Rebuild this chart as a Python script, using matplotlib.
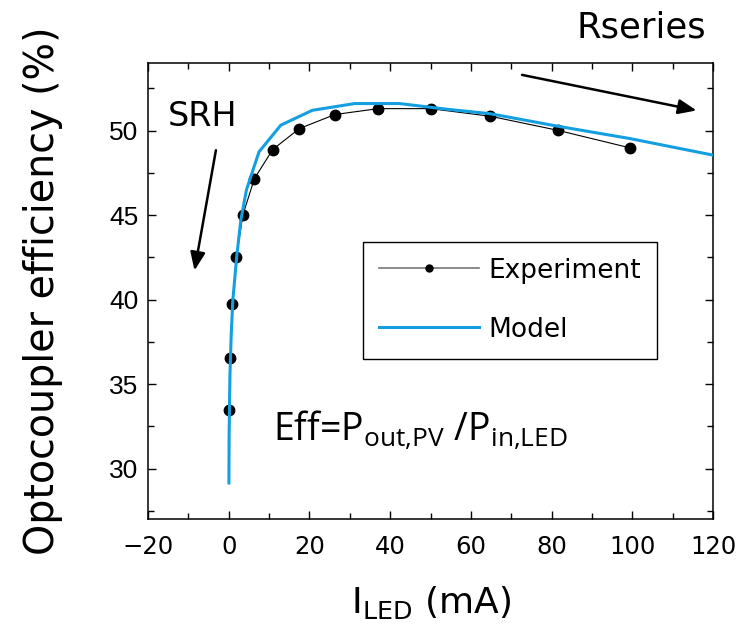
import matplotlib
matplotlib.use("Agg")
import matplotlib.pyplot as plt
from matplotlib.lines import Line2D

# experiment: LED current (mA) vs optocoupler efficiency (%)
exp_current = [0.07, 0.42, 0.91, 1.9, 3.5, 6.35, 10.9, 17.5, 26.3, 37.0, 50.0, 64.8, 81.5, 99.4]
exp_eff = [33.44, 36.54, 39.75, 42.5, 45.0, 47.15, 48.88, 50.12, 50.95, 51.3, 51.3, 50.85, 50.02, 48.98]

# model curve
model_current = [0.05, 0.1, 0.3, 0.6, 1.0, 2.0, 3.0, 4.4, 7.5, 12.9, 20.7, 31.2, 42.3, 54.6, 64.8, 81.5, 99.4, 120.0]
model_eff = [29.15, 32.0, 35.5, 37.8, 39.9, 42.6, 44.7, 46.5, 48.74, 50.32, 51.2, 51.6, 51.6, 51.25, 51.0, 50.26, 49.53, 48.55]

main_font = "DejaVu Sans"
tick_font_y = "Liberation Sans"
plt.rcParams["mathtext.fontset"] = "custom"
plt.rcParams["mathtext.rm"] = "Open Sans"
plt.rcParams["mathtext.it"] = "Open Sans:italic"

fig = plt.figure(figsize=(7.37, 6.33), dpi=100)
ax = fig.add_axes([148 / 737, 1 - 519.3 / 633, 565 / 737, 456.3 / 633])

ax.plot(exp_current, exp_eff, color="black", lw=0.8, marker="o", ms=7.5,
        mfc="black", mec="black", zorder=2)
ax.plot(model_current, model_eff, color="#139fe0", lw=2.2, zorder=3)

ax.set_xlim(-20, 120)
ax.set_ylim(27, 54)
ax.set_xticks(range(-20, 121, 20))
ax.set_xticks(range(-10, 121, 20), minor=True)
ax.set_yticks(range(30, 51, 5))
ax.set_yticks([27.5, 32.5, 37.5, 42.5, 47.5, 52.5], minor=True)
ax.set_xticklabels(["\u221220", "0", "20", "40", "60", "80", "100", "120"],
                   fontfamily=main_font, fontsize=17.5)
ax.set_yticklabels(["30", "35", "40", "45", "50"], fontfamily=tick_font_y, fontsize=19)
ax.tick_params(which="both", direction="in", top=True, right=True, width=1)
ax.tick_params(which="major", length=6)
ax.tick_params(which="minor", length=4)
ax.tick_params(axis="x", which="major", pad=11)
ax.tick_params(axis="y", which="major", pad=7)
for s in ax.spines.values():
    s.set_linewidth(1.1)

ax.set_xlabel(r"I$_{\mathrm{LED}}$ (mA)", fontfamily=main_font, fontsize=26,
              math_fontfamily="dejavusans", labelpad=18)
ax.set_ylabel("Optocoupler efficiency (%)", fontfamily=main_font, fontsize=28.5, labelpad=33)

# annotations
ax.text(-15.1, 50.3, "SRH", fontfamily=main_font, fontsize=24, va="baseline")
ax.annotate("", xy=(-8.6, 41.56), xytext=(-3.05, 49.0),
            arrowprops=dict(arrowstyle="-|>,head_length=1.1,head_width=0.45", color="black", lw=1.8))
ax.annotate("", xy=(116.6, 51.16), xytext=(72.0, 53.33), annotation_clip=False,
            arrowprops=dict(arrowstyle="-|>,head_length=1.1,head_width=0.45", color="black", lw=1.8))
fig.text(577 / 737, 1 - 37 / 633, "Rseries", fontfamily=main_font, fontsize=25.5, va="baseline")
ax.text(10.9, 31.7, r"Eff=P$_{\mathrm{out{,}PV}}$ /P$_{\mathrm{in{,}LED}}$",
        fontfamily="Open Sans", fontsize=27, va="baseline")

handles = [
    Line2D([], [], color="#777777", lw=1.2, marker="o", ms=5, mfc="black", mec="black"),
    Line2D([], [], color="#139fe0", lw=2.2),
]
leg = ax.legend(handles, ["Experiment", "Model"], loc="upper left",
                bbox_to_anchor=(0.381, 0.608), prop={"family": main_font, "size": 19},
                frameon=True, fancybox=False, edgecolor="black", framealpha=1,
                handlelength=3.8, handletextpad=0.35, labelspacing=1.25, borderpad=0.6,
                borderaxespad=0)
leg.get_frame().set_linewidth(1.0)

fig.savefig("out.png", dpi=100)
